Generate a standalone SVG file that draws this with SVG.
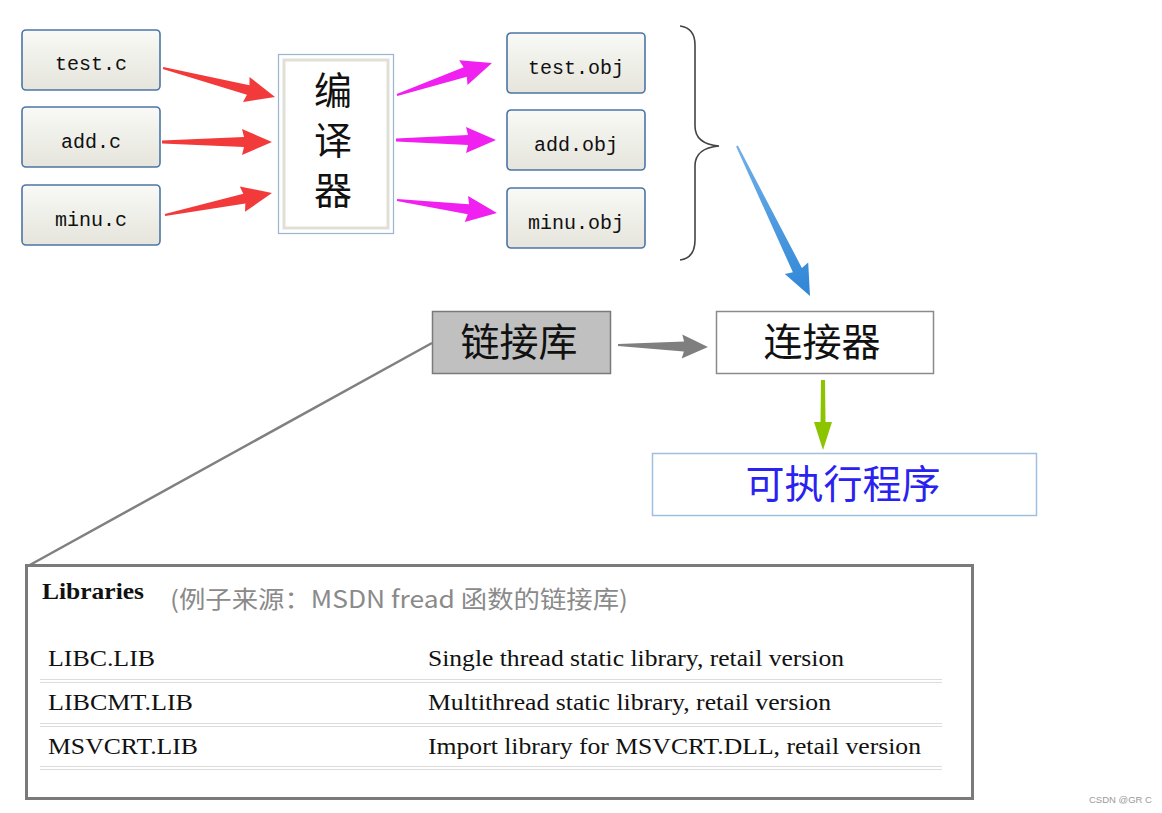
<svg xmlns="http://www.w3.org/2000/svg" width="1162" height="813" viewBox="0 0 1162 813">
<style>
.btn{fill:url(#g);stroke:#4d74a6;stroke-width:1.6}
.mono{font-family:"Liberation Mono","DejaVu Sans Mono",monospace;font-size:20px;fill:#111;text-anchor:middle}
.cjk{font-family:"Noto Sans CJK SC","Noto Sans",sans-serif;fill:#111;text-anchor:middle}
.serif{font-family:"Liberation Serif","Noto Sans CJK SC",serif;font-size:24px;fill:#111}
.sep{stroke:#dcdcdc;stroke-width:1.2}
</style>
<defs>
<linearGradient id="g" x1="0" y1="0" x2="0" y2="1">
<stop offset="0" stop-color="#f9f9f6"/>
<stop offset="1" stop-color="#e5e5dc"/>
</linearGradient>
<linearGradient id="bl" x1="0" y1="0" x2="1" y2="0">
<stop offset="0" stop-color="#6fb0ea"/>
<stop offset="1" stop-color="#2f86d6"/>
</linearGradient>
</defs>
<rect width="1162" height="813" fill="#fff"/>

<g id="test_c"><rect class="btn" x="22" y="30" width="138" height="60" rx="4"/><text class="mono" x="91" y="70">test.c</text></g>
<g id="add_c"><rect class="btn" x="22" y="107" width="138" height="60" rx="4"/><text class="mono" x="91" y="148">add.c</text></g>
<g id="minu_c"><rect class="btn" x="22" y="185" width="138" height="60" rx="4"/><text class="mono" x="91" y="226">minu.c</text></g>

<g id="compiler">
<rect x="278.5" y="54.5" width="115" height="179" fill="#fff" stroke="#9ab4d4" stroke-width="1.2"/>
<rect x="284" y="60" width="104" height="168" fill="#fff" stroke="#e0e0d8" stroke-width="3"/>
<text class="cjk" x="333" y="104" font-size="38">编</text>
<text class="cjk" x="333" y="154" font-size="38">译</text>
<text class="cjk" x="333" y="204" font-size="38">器</text>
</g>

<g id="test_obj"><rect class="btn" x="507" y="33" width="138" height="60" rx="4"/><text class="mono" x="576" y="74">test.obj</text></g>
<g id="add_obj"><rect class="btn" x="507" y="110" width="138" height="60" rx="4"/><text class="mono" x="576" y="151">add.obj</text></g>
<g id="minu_obj"><rect class="btn" x="507" y="188" width="138" height="60" rx="4"/><text class="mono" x="576" y="229">minu.obj</text></g>

<g id="brace"><path d="M680 26 Q695 28 695 45 L695 126 Q695 144 719 146 Q695 148 695 166 L695 240 Q695 258 680 260" fill="none" stroke="#444" stroke-width="1.6"/></g>

<g id="lib">
<rect x="432.5" y="311.5" width="178" height="62" fill="#c0c0c0" stroke="#7a7a7a" stroke-width="1.5"/>
<text class="cjk" x="519" y="356" font-size="39">链接库</text>
</g>
<g id="linker">
<rect x="716.5" y="311.5" width="217" height="62" fill="#fff" stroke="#8a8a8a" stroke-width="1.5"/>
<text class="cjk" x="822" y="356" font-size="39">连接器</text>
</g>
<g id="exe">
<rect x="652.5" y="453.5" width="384" height="62" fill="#fff" stroke="#9fbfdf" stroke-width="1.5"/>
<text class="cjk" x="843" y="498" font-size="39" style="fill:#2a22f0">可执行程序</text>
</g>

<g id="connectors">
<g fill="#f23a3a">
<polygon transform="translate(163,68) rotate(14.5)" points="0,-1 88,-5 86,-13 115.7,0 86,13 88,5 0,1"/>
<polygon transform="translate(162,142)" points="0,-1.5 82,-5 80,-13 110,0 80,13 82,5 0,1.5"/>
<polygon transform="translate(165,215) rotate(-11.6)" points="0,-1 81,-5 79,-13 109.2,0 79,13 81,5 0,1"/>
</g>
<g fill="#f020f0">
<polygon transform="translate(397,95) rotate(-18.6)" points="0,-1 72,-5 70,-13 100.2,0 70,13 72,5 0,1"/>
<polygon transform="translate(396,140)" points="0,-1.5 72,-5 70,-13 100,0 70,13 72,5 0,1.5"/>
<polygon transform="translate(397,200) rotate(7.4)" points="0,-1 72,-5 70,-13 100.8,0 70,13 72,5 0,1"/>
</g>
<polygon transform="translate(737,146) rotate(64.05)" fill="url(#bl)" points="0,-1 138,-5 136,-13 166.8,0 136,13 138,5 0,1"/>
<polygon transform="translate(618,345) rotate(1.3)" fill="#7f7f7f" points="0,-1 66,-5 64,-12 90,0 64,12 66,5 0,1"/>
<polygon transform="translate(823,380) rotate(90)" fill="#8cc400" points="0,-2 42,-2.5 42,-9 70,0 42,9 42,2.5 0,2"/>
<line x1="432" y1="343" x2="28" y2="566" stroke="#808080" stroke-width="2.5"/>
</g>

<g id="table">
<rect x="26.5" y="565.5" width="946" height="233" fill="#fff" stroke="#7a7a7a" stroke-width="3"/>
<text x="42" y="599" font-family="Liberation Serif,serif" font-size="23" font-weight="bold" fill="#111" textLength="102" lengthAdjust="spacingAndGlyphs">Libraries</text>
<text x="170" y="608" font-family="Noto Sans CJK SC,Noto Sans,sans-serif" font-size="24" fill="#8a8a8a" textLength="458" lengthAdjust="spacingAndGlyphs">(例子来源：MSDN fread 函数的链接库)</text>
<text class="serif" x="48" y="666" textLength="107" lengthAdjust="spacingAndGlyphs">LIBC.LIB</text>
<text class="serif" x="428" y="666" textLength="416" lengthAdjust="spacingAndGlyphs">Single thread static library, retail version</text>
<line class="sep" x1="40" y1="679.5" x2="942" y2="679.5"/>
<line class="sep" x1="40" y1="682.5" x2="942" y2="682.5"/>
<text class="serif" x="48" y="710" textLength="145" lengthAdjust="spacingAndGlyphs">LIBCMT.LIB</text>
<text class="serif" x="428" y="710" textLength="403" lengthAdjust="spacingAndGlyphs">Multithread static library, retail version</text>
<line class="sep" x1="40" y1="723.5" x2="942" y2="723.5"/>
<line class="sep" x1="40" y1="726.5" x2="942" y2="726.5"/>
<text class="serif" x="48" y="754" textLength="150" lengthAdjust="spacingAndGlyphs">MSVCRT.LIB</text>
<text class="serif" x="428" y="754" textLength="493" lengthAdjust="spacingAndGlyphs">Import library for MSVCRT.DLL, retail version</text>
<line class="sep" x1="40" y1="766.5" x2="942" y2="766.5"/>
<line class="sep" x1="40" y1="769.5" x2="942" y2="769.5"/>
</g>
<text x="1089" y="803" font-family="Liberation Sans,sans-serif" font-size="9.5" fill="#9a9a9a">CSDN @GR C</text>
</svg>
